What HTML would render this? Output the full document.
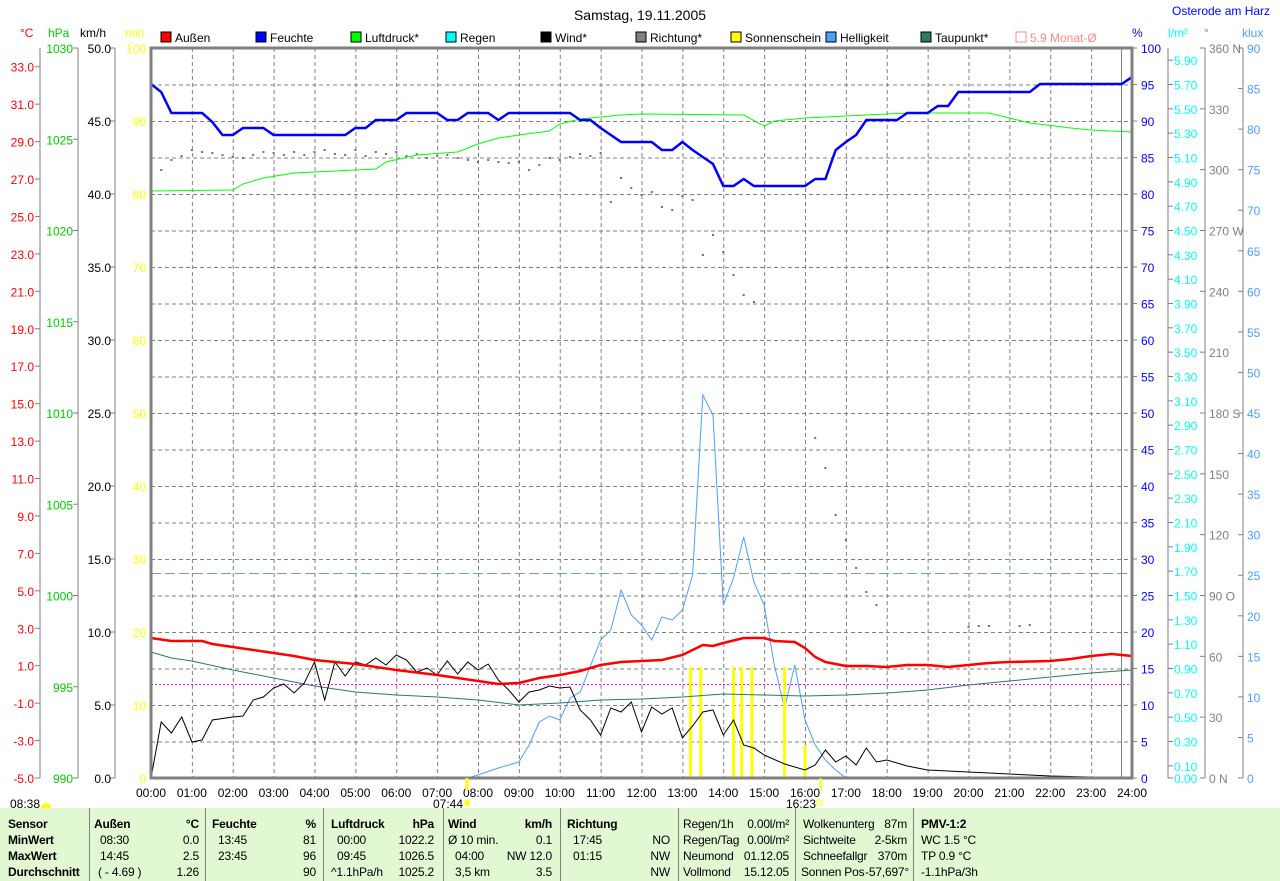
<!DOCTYPE html><html><head><meta charset="utf-8"><style>
body{margin:0;background:#fff;width:1280px;height:881px;overflow:hidden;font-family:"Liberation Sans",sans-serif}
svg text{font-family:"Liberation Sans",sans-serif;font-size:12px}
#tbl{position:absolute;left:0;top:808px;width:1280px;height:73px;background:#e2f8d2;font-size:12px;letter-spacing:-0.2px}
#tbl div{position:absolute;white-space:nowrap}
.sep{width:1px;height:73px;background:#808080;top:0}
.b{font-weight:bold}
</style></head><body>
<svg id="s" width="1280" height="808" style="position:absolute;left:0;top:0"></svg>
<div id="tbl"></div>
<script>
const S=document.getElementById('s');let h='';
const X=t=>151+t*40.875;
function T(x,y,s,c,a,extra){h+=`<text x="${x}" y="${y}" fill="${c}" text-anchor="${a||'start'}" ${extra||''}>${s}</text>`;}
function L(x1,y1,x2,y2,c,w,d){h+=`<line x1="${x1}" y1="${y1}" x2="${x2}" y2="${y2}" stroke="${c}" stroke-width="${w||1}" ${d?`stroke-dasharray="${d}"`:''}/>`;}
T(640,20,'Samstag, 19.11.2005','#000','middle','style="font-size:14px"');
T(1172,15,'Osterode am Harz','#0000ff');
for(let i=1;i<24;i++)L(X(i)+.5,48,X(i)+.5,778,'#808080',1,'4,3');
for(let i=1;i<20;i++)L(151,48.5+i*36.5,1132,48.5+i*36.5,'#808080',1,'4,3');
const lg=[['Außen','#f00'],['Feuchte','#00f'],['Luftdruck*','#0f0'],['Regen','#0ff'],['Wind*','#000'],['Richtung*','#808080'],['Sonnenschein','#ff0'],['Helligkeit','#4aa0ff'],['Taupunkt*','#2a7a6a']];
lg.forEach((l,i)=>{let x=161+i*95;h+=`<rect x="${x}" y="32" width="10" height="10" fill="${l[1]}" stroke="#000"/>`;T(x+14,42,l[0],'#000');});
h+=`<rect x="1016" y="32" width="10" height="10" fill="none" stroke="#f88"/>`;T(1030,42,'5.9 Monat-Ø','#f88');
T(20,37,'°C','#f00');T(48,37,'hPa','#0c0');T(80,37,'km/h','#000');T(125,37,'min','#ff0');
L(40,48,40,778,'#808080');L(78,48,78,778,'#808080');L(115,48,115,778,'#808080');
for(let v=-5;v<=33;v+=2){let y=778-(v+5)*730/39;L(35,y,40,y,'#808080');T(34,y+5,v.toFixed(1),'#f00','end');}
for(let v=990;v<=1030;v+=5){let y=778-(v-990)*730/40;L(73,y,78,y,'#808080');T(73,y+5,v,'#0c0','end');}
for(let v=0;v<=50;v+=5){let y=778-v*14.6;L(110,y,115,y,'#808080');T(111,y+5,v.toFixed(1),'#000','end');}
for(let v=0;v<=100;v+=10){let y=778-v*7.3;T(146,y+5,v,'#ff0','end');}
T(1132,37,'%','#00f');T(1168,37,'l/m²','#0ff');T(1204,37,'°','#808080');T(1242,37,'klux','#4aa0ff');
for(let v=0;v<=100;v+=5){let y=778-v*7.3;L(1132,y,1137,y,'#808080');T(1141,y+5,v,'#00f');}
L(1168,48,1168,778,'#808080');
let rv=[0,0.1];for(let v=0.3;v<6;v+=0.2)rv.push(v);
rv.forEach(v=>{let y=778-v*730/6;L(1168,y,1173,y,'#808080');T(1174,y+5,v.toFixed(2),'#0ff');});
L(1205,48,1205,778,'#808080');
const dn={360:'360 N',270:'270 W',180:'180 S',90:'90 O',0:'0 N'};
for(let v=0;v<=360;v+=30){let y=778-v*730/360;L(1200,y,1205,y,'#808080');T(1209,y+5,dn[v]||v,'#808080');}
L(1243,48,1243,778,'#808080');
for(let v=0;v<=90;v+=5){let y=778-v*730/90;L(1238,y,1243,y,'#808080');T(1247,y+5,v,'#4aa0ff');}
L(151,573.5,1132,573.5,'#6aa0c8',1,'10,4');L(151,684.5,1132,684.5,'#f0f',1,'2,2');
L(1121.5,48,1121.5,778,'#808080');
function P(arr,c,w){let p=[];for(let i=0;i<arr.length;i+=2)p.push(X(arr[i]).toFixed(1)+','+arr[i+1]);h+=`<polyline points="${p.join(' ')}" fill="none" stroke="${c}" stroke-width="${w}"/>`;}
const rd=[0.25,170,.5,160,.75,156,1,150,1.25,152,1.5,153,1.75,155,2,157,2.25,158,2.5,155,2.75,152,3,153,3.25,155,3.5,152,3.75,155,4,152,4.25,150,4.5,154,4.75,155,5,150,5.25,156,5.5,152,5.75,154,6,152,6.25,156,6.5,154,6.75,158,7,156,7.25,155,7.5,158,7.75,160,8,162,8.25,160,8.5,162,8.75,163,9,162,9.25,170,9.5,165,9.75,158,10,160,10.25,157,10.5,154,10.75,156,11,153,11.25,202,11.5,178,11.75,188,12,195,12.25,192,12.5,207,12.75,210,13,196,13.25,200,13.5,255,13.75,235,14,252,14.25,275,14.5,295,14.75,302,16.25,438,16.5,468,16.75,515,17,540,17.25,568,17.5,592,17.75,605,20,627,20.25,626,20.5,626,21.25,626,21.5,625];
for(let i=0;i<rd.length;i+=2)h+=`<rect x="${X(rd[i])-1}" y="${rd[i+1]-1}" width="2" height="2" fill="#707070"/>`;
P([7.75,778,8,775,8.5,768,9,762,9.25,745,9.5,722,9.75,716,10,720,10.25,698,10.5,692,11,640,11.25,630,11.5,590,11.75,615,12,625,12.25,640,12.5,617,12.75,620,13,610,13.25,575,13.5,395,13.75,415,14,605,14.25,578,14.5,537,14.75,582,15,605,15.25,665,15.5,708,15.75,665,16,720,16.25,745,16.5,760,16.75,770,17,778],'#4aa0ff',1);
[[13.2,667],[13.45,667],[14.25,667],[14.45,667],[14.7,667],[15.5,667],[16,745]].forEach(b=>h+=`<rect x="${X(b[0])-1.5}" y="${b[1]}" width="3" height="${778-b[1]}" fill="#ff0"/>`);
P([0,652,0.5,658,1,661,2,670,3,678,4,686,5,692,6,695,7,697,8,700,9,705,10,703,11,700,12,699,13,697,14,694,15,695,16,696,17,695,18,693,19,690,20,685,21,681,22,677,23,673,24,670],'#2a7a6a',1);
P([0,778,.25,722,.5,733,.75,717,1,742,1.25,740,1.5,720,2,717,2.25,716,2.5,700,2.75,697,3,688,3.25,684,3.5,693,3.75,683,4,662,4.25,700,4.5,662,4.75,676,5,662,5.25,665,5.5,658,5.75,665,6,655,6.25,660,6.5,672,6.75,668,7,675,7.25,661,7.5,674,7.75,662,8,670,8.25,664,8.5,680,8.75,690,9,702,9.25,692,9.5,690,9.75,686,10,688,10.25,687,10.5,710,10.75,720,11,735,11.25,708,11.5,712,11.75,702,12,732,12.25,707,12.5,714,12.75,708,13,738,13.25,726,13.5,712,13.75,710,14,735,14.25,720,14.5,745,14.75,748,15,755,15.5,764,16,770,16.25,765,16.5,750,16.75,762,17,756,17.25,765,17.5,748,17.75,762,18,760,18.5,766,19,770,20,772,21,774,22,776,23,777,24,777],'#000',1);
P([0,638,.5,641,1.25,641,1.5,644,2,647,2.5,650,3,653,3.5,656,4,660,5,664,6,670,7,675,7.5,678,8,681,8.5,684,9,683,9.5,678,10,675,10.5,671,11,665,11.5,662,12,661,12.5,660,13,655,13.5,645,13.75,646,14,643,14.5,638,15,638,15.25,641,15.75,642,16,648,16.25,657,16.5,662,17,666,17.5,666,18,667,18.5,665,19,665,19.5,667,20,665,20.5,663,21,662,22,661,22.5,659,23,656,23.5,654,24,656],'#f00',2.5);
P([0,191,2,190,2.25,184,2.75,178,3.5,173,4.5,171,5.5,169,5.75,162,6.5,155,7.5,152,8,144,8.5,138,9,135,9.75,131,10,124,10.5,119,11,117,11.5,115,12,114,14.5,115,15,126,15.25,121,16,118,16.5,117,17,116,18,114,18.5,113,20.5,113,21,118,21.5,123,22.5,128,23,130,24,132],'#0f0',1);
P([0,84,.25,92,.5,113,1.25,113,1.5,122,1.75,135,2,135,2.25,128,2.75,128,3,135,4.75,135,5,128,5.25,128,5.5,120,6,120,6.25,113,7,113,7.25,120,7.5,120,7.75,113,8.25,113,8.5,120,8.75,113,10.25,113,10.5,120,10.75,120,11,128,11.5,142,12.25,142,12.5,150,12.75,150,13,142,13.25,150,13.5,157,13.75,164,14,186,14.25,186,14.5,179,14.75,186,16,186,16.25,179,16.5,179,16.75,150,17,142,17.25,135,17.5,120,18.25,120,18.5,113,19,113,19.25,106,19.5,106,19.75,92,21.5,92,21.75,84,23.75,84,24,77],'#00f',2.5);
h+=`<rect x="151" y="48" width="981" height="730" fill="none" stroke="#808080" stroke-width="3"/>`;
for(let i=0;i<=24;i++)T(X(i),797,(i<10?'0':'')+i+':00','#000','middle');
L(X(7.73),778,X(7.73),790,'#ff0',3);L(X(16.38),778,X(16.38),790,'#ff0',2);
T(10,808,'08:38','#000');h+=`<path d="M41 808 a5 5 0 0 1 10 0z" fill="#ff0"/>`;
T(433,808,'07:44','#000');h+=`<circle cx="467" cy="803" r="3" fill="#ff0"/>`;
T(786,808,'16:23','#000');h+=`<rect x="817" y="800" width="5" height="5" fill="none" stroke="#ff0"/>`;
S.innerHTML=h;
const tb=document.getElementById('tbl');let t='';
[89,205,323,443,560,678,795,913].forEach(x=>t+=`<div class="sep" style="left:${x}px"></div>`);
function D(x,r,s,cls,right){let y=9+r*16;t+=right?`<div class="${cls||''}" style="right:${1280-x}px;top:${y}px">${s}</div>`:`<div class="${cls||''}" style="left:${x}px;top:${y}px">${s}</div>`;}
['Sensor','MinWert','MaxWert','Durchschnitt'].forEach((s,i)=>D(8,i,s,'b'));
D(94,0,'Außen','b');D(199,0,'°C','b',1);D(100,1,'08:30');D(199,1,'0.0','',1);D(100,2,'14:45');D(199,2,'2.5','',1);D(98,3,'( - 4.69 )');D(199,3,'1.26','',1);
D(212,0,'Feuchte','b');D(316,0,'%','b',1);D(218,1,'13:45');D(316,1,'81','',1);D(218,2,'23:45');D(316,2,'96','',1);D(316,3,'90','',1);
D(331,0,'Luftdruck','b');D(434,0,'hPa','b',1);D(337,1,'00:00');D(434,1,'1022.2','',1);D(337,2,'09:45');D(434,2,'1026.5','',1);D(331,3,'^1.1hPa/h');D(434,3,'1025.2','',1);
D(448,0,'Wind','b');D(552,0,'km/h','b',1);D(448,1,'Ø 10 min.');D(552,1,'0.1','',1);D(455,2,'04:00');D(552,2,'NW 12.0','',1);D(455,3,'3,5 km');D(552,3,'3.5','',1);
D(567,0,'Richtung','b');D(573,1,'17:45');D(573,2,'01:15');D(670,1,'NO','',1);D(670,2,'NW','',1);D(670,3,'NW','',1);
D(683,0,'Regen/1h');D(789,0,'0.00l/m²','',1);D(683,1,'Regen/Tag');D(789,1,'0.00l/m²','',1);D(683,2,'Neumond');D(789,2,'01.12.05','',1);D(683,3,'Vollmond');D(789,3,'15.12.05','',1);
D(803,0,'Wolkenunterg');D(907,0,'87m','',1);D(803,1,'Sichtweite');D(907,1,'2-5km','',1);D(803,2,'Schneefallgr');D(907,2,'370m','',1);D(801,3,'Sonnen Pos');D(909,3,'-57,697°','',1);
D(921,0,'PMV-1:2','b');D(921,1,'WC 1.5 °C');D(921,2,'TP 0.9 °C');D(921,3,'-1.1hPa/3h');
tb.innerHTML=t;
</script></body></html>
